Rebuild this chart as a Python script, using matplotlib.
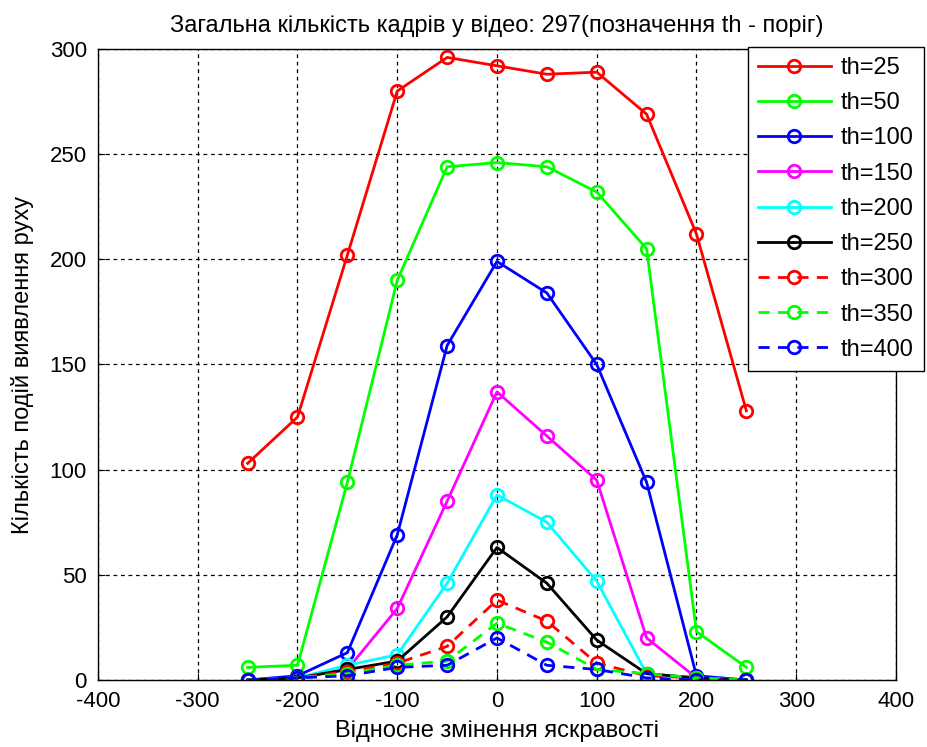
import matplotlib
matplotlib.use("Agg")
import matplotlib.pyplot as plt

plt.rcParams['font.family'] = ['Liberation Sans', 'DejaVu Sans']
plt.rcParams['axes.unicode_minus'] = False

x = [-250, -200, -150, -100, -50, 0, 50, 100, 150, 200, 250]
th25  = [103, 125, 202, 280, 296, 292, 288, 289, 269, 212, 128]
th50  = [6, 7, 94, 190, 244, 246, 244, 232, 205, 23, 6]
th100 = [0, 2, 13, 69, 159, 199, 184, 150, 94, 2, 0]
th150 = [0, 1, 5, 34, 85, 137, 116, 95, 20, 1, 0]
th200 = [0, 1, 7, 12, 46, 88, 75, 47, 3, 1, 0]
th250 = [0, 1, 5, 9, 30, 63, 46, 19, 3, 1, 0]
th300 = [0, 1, 4, 8, 16, 38, 28, 8, 2, 1, 0]
th350 = [0, 1, 3, 7, 9, 27, 18, 5, 3, 1, 0]
th400 = [0, 1, 2, 6, 7, 20, 7, 5, 1, 0, 0]

series = [th25, th50, th100, th150, th200, th250, th300, th350, th400]
labels = ['th=25', 'th=50', 'th=100', 'th=150', 'th=200', 'th=250', 'th=300', 'th=350', 'th=400']
colors = ['#ff0000', '#00ff00', '#0000ff', '#ff00ff', '#00ffff', '#000000', '#ff0000', '#00ff00', '#0000ff']
styles = ['-', '-', '-', '-', '-', '-', '--', '--', '--']

xticks = [-400, -300, -200, -100, 0, 100, 200, 300, 400]
yticks = [0, 50, 100, 150, 200, 250, 300]

fig = plt.figure(figsize=(9.28, 7.47), dpi=100)
ax = fig.add_axes([0.1056, 0.0897, 0.8599, 0.8447])

for s, lab, c, ls in zip(series, labels, colors, styles):
    line, = ax.plot(x, s, ls, color=c, lw=2.0, marker='o', markersize=9,
                    markerfacecolor='none', markeredgewidth=2.0, label=lab)
    if ls == '--':
        line.set_dashes((4, 3))

ax.set_xlim(-400, 400)
ax.set_ylim(0, 300)
ax.set_xticks(xticks)
ax.set_yticks(yticks)
ax.grid(True, color='black', linestyle=(0, (3, 3)), linewidth=0.9)
ax.tick_params(direction='in', labelsize=16, length=5, colors='black')
ax.tick_params(axis='x', pad=8)
ax.tick_params(axis='y', pad=8)
for sp in ax.spines.values():
    sp.set_linewidth(1.0)

ax.set_title('Загальна кількість кадрів у відео: 297(позначення th - поріг)', fontsize=17, pad=12)
ax.set_xlabel('Відносне змінення яскравості', fontsize=17, labelpad=6)
ax.set_ylabel('Кількість подій виявлення руху', fontsize=17, labelpad=11)

leg = ax.legend(loc='upper left', bbox_to_anchor=(0.806, 0.937),
                bbox_transform=fig.transFigure, borderaxespad=0, fontsize=17,
                labelspacing=0.56, handlelength=3.1, handletextpad=0.42,
                borderpad=0.42, fancybox=False, framealpha=1, edgecolor='black')
leg.get_frame().set_linewidth(1.0)

fig.savefig('out.png', dpi=100, facecolor='white')
